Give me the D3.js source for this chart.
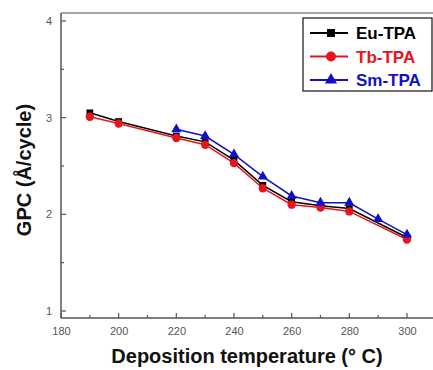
<!DOCTYPE html>
<html><head><meta charset="utf-8">
<script src="https://cdn.jsdelivr.net/npm/d3@7"></script>
<style>body{margin:0;background:#fff}svg{display:block}</style>
</head><body>
<script>
const temps = [190, 200, 220, 230, 240, 250, 260, 270, 280, 300];
const euTPA = [3.05, 2.96, 2.81, 2.75, 2.56, 2.30, 2.13, 2.09, 2.06, 1.76];
const tbTPA = [3.01, 2.94, 2.79, 2.72, 2.53, 2.27, 2.10, 2.07, 2.03, 1.74];
const smTemps = [220, 230, 240, 250, 260, 270, 280, 290, 300];
const smTPA = [2.88, 2.81, 2.62, 2.39, 2.19, 2.12, 2.12, 1.95, 1.79];
const xTicks = [180, 200, 220, 240, 260, 280, 300];
const yTicks = [1, 2, 3, 4];
const seriesNames = ["Eu-TPA", "Tb-TPA", "Sm-TPA"];
const seriesColors = ["#000000", "#e8141b", "#1010c8"];

const W = 433, H = 370;
const FONT = "Liberation Sans, Arial, sans-serif";
const svg = d3.select("body").append("svg").attr("width", W).attr("height", H);
const x = d3.scaleLinear().domain([180, 310]).range([61, 435.8]);
const y = d3.scaleLinear().domain([1, 4]).range([311, 21]);
const yBottom = 318, yTop = 13;

// frame
svg.append("line").attr("x1", 61).attr("x2", W).attr("y1", yTop).attr("y2", yTop).attr("stroke", "#888").attr("stroke-width", 1.5);
svg.append("line").attr("x1", 61).attr("x2", 61).attr("y1", yTop).attr("y2", yBottom).attr("stroke", "#555").attr("stroke-width", 1.5);
svg.append("line").attr("x1", 61).attr("x2", W).attr("y1", yBottom).attr("y2", yBottom).attr("stroke", "#555").attr("stroke-width", 1.5);

// x axis
const xAxis = d3.axisBottom(x).tickValues(xTicks).tickSize(0).tickPadding(9).tickFormat(d3.format("d"));
const gx = svg.append("g").attr("transform", `translate(0,${yBottom})`).call(xAxis);
gx.select(".domain").remove();
gx.selectAll("text").attr("font-family", FONT).attr("font-size", 11).attr("fill", "#555");
const xMinor = d3.range(190, 310, 20);
svg.append("g").selectAll("line").data(xTicks).join("line")
  .attr("x1", d => x(d)).attr("x2", d => x(d)).attr("y1", yBottom).attr("y2", yBottom - 5).attr("stroke", "#555").attr("stroke-width", 1.2);
svg.append("g").selectAll("line").data(xMinor).join("line")
  .attr("x1", d => x(d)).attr("x2", d => x(d)).attr("y1", yBottom).attr("y2", yBottom - 3).attr("stroke", "#555").attr("stroke-width", 1.2);

// y axis
const yAxis = d3.axisLeft(y).tickValues(yTicks).tickSize(0).tickPadding(9).tickFormat(d3.format("d"));
const gy = svg.append("g").attr("transform", "translate(61,0)").call(yAxis);
gy.select(".domain").remove();
gy.selectAll("text").attr("font-family", FONT).attr("font-size", 11).attr("fill", "#555");
const yMinor = [1.5, 2.5, 3.5];
svg.append("g").selectAll("line").data(yTicks).join("line")
  .attr("x1", 61).attr("x2", 66).attr("y1", d => y(d)).attr("y2", d => y(d)).attr("stroke", "#555").attr("stroke-width", 1.2);
svg.append("g").selectAll("line").data(yMinor).join("line")
  .attr("x1", 61).attr("x2", 64).attr("y1", d => y(d)).attr("y2", d => y(d)).attr("stroke", "#555").attr("stroke-width", 1.2);

// titles
svg.append("text").attr("x", 247).attr("y", 363).attr("text-anchor", "middle")
  .attr("font-family", FONT).attr("font-weight", "bold").attr("font-size", 20).attr("fill", "#111")
  .text("Deposition temperature (° C)");
svg.append("text").attr("transform", "translate(31,170) rotate(-90)").attr("text-anchor", "middle")
  .attr("font-family", FONT).attr("font-weight", "bold").attr("font-size", 20).attr("fill", "#111")
  .text("GPC (Å/cycle)");

// series
const series = [
  {name: seriesNames[0], xs: temps, ys: euTPA, color: seriesColors[0], shape: d3.symbolSquare, size: 45},
  {name: seriesNames[1], xs: temps, ys: tbTPA, color: seriesColors[1], shape: d3.symbolCircle, size: 55},
  {name: seriesNames[2], xs: smTemps, ys: smTPA, color: seriesColors[2], shape: d3.symbolTriangle, size: 45}
];
const line = d3.line().x(d => x(d[0])).y(d => y(d[1]));
series.forEach(s => {
  const pts = s.xs.map((t, i) => [t, s.ys[i]]);
  svg.append("path").datum(pts).attr("d", line).attr("fill", "none").attr("stroke", s.color).attr("stroke-width", 1.5);
});
series.forEach(s => {
  const pts = s.xs.map((t, i) => [t, s.ys[i]]);
  svg.append("g").selectAll("path").data(pts).join("path")
    .attr("transform", d => `translate(${x(d[0])},${y(d[1])})`)
    .attr("d", d3.symbol().type(s.shape).size(s.size)).attr("fill", s.color);
});

// legend
const lg = svg.append("g");
lg.append("rect").attr("x", 303).attr("y", 18).attr("width", 129).attr("height", 73).attr("fill", "#fff").attr("stroke", "#111").attr("stroke-width", 1.2);
series.forEach((s, i) => {
  const ly = 33 + i * 23.5;
  lg.append("line").attr("x1", 310).attr("x2", 348).attr("y1", ly).attr("y2", ly).attr("stroke", s.color).attr("stroke-width", 1.8);
  lg.append("path").attr("transform", `translate(331,${ly})`).attr("d", d3.symbol().type(s.shape).size(s.size * 1.4)).attr("fill", s.color);
  lg.append("text").attr("x", 356).attr("y", ly + 6).attr("font-family", FONT)
    .attr("font-weight", "bold").attr("font-size", 17).attr("fill", s.color).text(s.name);
});
</script>
</body></html>
